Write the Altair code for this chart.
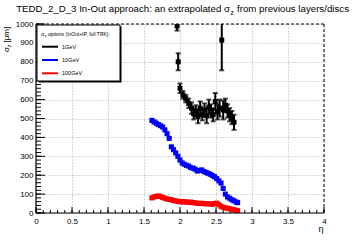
import altair as alt
import pandas as pd

# ---- data ----
eta_fine = [1.61, 1.64, 1.67, 1.70, 1.73, 1.76, 1.79, 1.82, 1.85, 1.88,
            1.91, 1.94, 1.97, 2.00, 2.03, 2.06, 2.09, 2.12, 2.15, 2.18,
            2.21, 2.24, 2.27, 2.30, 2.33, 2.36, 2.39, 2.42, 2.45, 2.48,
            2.51, 2.54, 2.57, 2.60, 2.63, 2.66, 2.69, 2.72, 2.75, 2.78, 2.80]
sigma_10gev = [490, 482, 475, 468, 462, 455, 440, 420, 395, 350,
               335, 318, 300, 280, 265, 258, 252, 248, 240, 238,
               232, 222, 225, 228, 220, 215, 210, 205, 198, 192,
               182, 170, 158, 130, 100, 85, 78, 70, 65, 58, 55]
sigma_100gev = [80, 85, 88, 90, 87, 82, 78, 74, 72, 70,
                66, 64, 62, 60, 58, 60, 58, 56, 58, 55,
                54, 52, 50, 52, 50, 48, 50, 48, 46, 50,
                52, 44, 35, 30, 27, 25, 22, 20, 17, 14, 12]

eta_1gev = [1.96, 1.975, 2.00, 2.04, 2.08, 2.12, 2.16, 2.19, 2.22, 2.25,
            2.28, 2.31, 2.34, 2.37, 2.40, 2.43, 2.46, 2.49, 2.52, 2.55,
            2.58, 2.60, 2.63, 2.66, 2.69, 2.72, 2.75]
sigma_1gev = [990, 800, 660, 625, 605, 580, 555, 525, 540, 510,
              555, 520, 545, 515, 560, 540, 520, 590, 535, 555,
              915, 545, 570, 540, 520, 505, 480]
err_1gev = [25, 45, 25, 20, 20, 25, 30, 30, 30, 35,
            35, 30, 35, 40, 40, 35, 35, 45, 40, 45,
            160, 50, 35, 35, 35, 35, 40]

legend_labels = ["1GeV", "10GeV", "100GeV"]
legend_colors = ["#000000", "#0000ff", "#ff0000"]

x_major = [0, 0.5, 1, 1.5, 2, 2.5, 3, 3.5, 4]
x_minor = [i / 10 for i in range(41)]
y_major = list(range(0, 1001, 100))
y_minor = list(range(0, 1001, 20))

W, H = 288, 189
FONT = "Liberation Sans"

xs = alt.Scale(domain=[0, 4], nice=False, zero=False)
ys = alt.Scale(domain=[0, 1000], nice=False, zero=False)

XAX = alt.Axis(values=x_major, labelExpr="'' + datum.value", labelFont=FONT, labelFontSize=8,
               labelColor="black", ticks=False, domain=False, grid=True, gridDash=[1, 2],
               gridColor="#b0b0b0", labelPadding=4, labelFlush=False, labelOverlap=False, title=None)
YAX = alt.Axis(values=y_major, labelExpr="'' + datum.value", labelFont=FONT, labelFontSize=8,
               labelColor="black", ticks=False, domain=False, grid=True, gridDash=[1, 2],
               gridColor="#b0b0b0", labelPadding=3, labelFlush=False, labelOverlap=False, title=None)


def X(f):
    return alt.X(f, scale=xs, axis=XAX)


def Y(f):
    return alt.Y(f, scale=ys, axis=YAX)


# ---- axes (labels + grid) ----
axes = alt.Chart(pd.DataFrame({"x": [0.0], "y": [0.0]})).mark_point(opacity=0).encode(
    x=X("x:Q"), y=Y("y:Q"))

# ---- inward ticks ----
ytick_minor = alt.Chart(pd.DataFrame({"v": y_minor})).mark_rule(color="black", strokeWidth=1).encode(
    y=Y("v:Q"), x=alt.value(0), x2=alt.value(5))
ytick_major = alt.Chart(pd.DataFrame({"v": y_major})).mark_rule(color="black", strokeWidth=1).encode(
    y=Y("v:Q"), x=alt.value(0), x2=alt.value(9))
xtick_minor = alt.Chart(pd.DataFrame({"v": x_minor})).mark_rule(color="black", strokeWidth=1).encode(
    x=X("v:Q"), y=alt.value(H), y2=alt.value(H - 3))
xtick_major = alt.Chart(pd.DataFrame({"v": x_major})).mark_rule(color="black", strokeWidth=1).encode(
    x=X("v:Q"), y=alt.value(H), y2=alt.value(H - 6))

# ---- frame ----
frame_df = pd.DataFrame({"a": [0]})
left = alt.Chart(frame_df).mark_rule(color="black", strokeWidth=1.2).encode(
    x=alt.value(0), y=alt.value(0), y2=alt.value(H))
bottom = alt.Chart(frame_df).mark_rule(color="black", strokeWidth=1.2).encode(
    x=alt.value(0), x2=alt.value(W), y=alt.value(H))
top = alt.Chart(frame_df).mark_rule(color="black", strokeWidth=1, strokeDash=[3, 2]).encode(
    x=alt.value(0), x2=alt.value(W), y=alt.value(0))
right = alt.Chart(frame_df).mark_rule(color="black", strokeWidth=1, strokeDash=[3, 2]).encode(
    x=alt.value(W), y=alt.value(0), y2=alt.value(H))

# ---- data ----
df10 = pd.DataFrame({"eta": eta_fine, "sigma": sigma_10gev})
df100 = pd.DataFrame({"eta": eta_fine, "sigma": sigma_100gev})
df1 = pd.DataFrame({"eta": eta_1gev, "sigma": sigma_1gev, "err": err_1gev})
df1["lo"] = df1["sigma"] - df1["err"]
df1["hi"] = df1["sigma"] + df1["err"]

pts10 = alt.Chart(df10).mark_square(size=26, color=legend_colors[1], opacity=1, clip=True).encode(
    x=X("eta:Q"), y=Y("sigma:Q"))
pts100 = alt.Chart(df100).mark_square(size=26, color=legend_colors[2], opacity=1, clip=True).encode(
    x=X("eta:Q"), y=Y("sigma:Q"))
err1 = alt.Chart(df1).mark_rule(color="black", strokeWidth=2, clip=True).encode(
    x=X("eta:Q"), y=Y("lo:Q"), y2="hi:Q")
caplo = alt.Chart(df1).mark_tick(color="black", orient="horizontal", size=5, thickness=2, clip=True).encode(
    x=X("eta:Q"), y=Y("lo:Q"))
caphi = alt.Chart(df1).mark_tick(color="black", orient="horizontal", size=5, thickness=2, clip=True).encode(
    x=X("eta:Q"), y=Y("hi:Q"))
pts1 = alt.Chart(df1).mark_square(size=25, color="black", opacity=1, clip=True).encode(
    x=X("eta:Q"), y=Y("sigma:Q"))

# ---- legend ----
lg_shadow = alt.Chart(frame_df).mark_rect(color="black").encode(
    x=alt.value(2.5), x2=alt.value(85.5), y=alt.value(2.5), y2=alt.value(58.5))
lg_box = alt.Chart(frame_df).mark_rect(fill="white", stroke="black", strokeWidth=1).encode(
    x=alt.value(1), x2=alt.value(84), y=alt.value(1), y2=alt.value(57))
lg_title1 = alt.Chart(frame_df).mark_text(text="σ", font=FONT, fontSize=5.5, align="left",
                                          baseline="middle", color="black").encode(
    x=alt.value(5), y=alt.value(10))
lg_title2 = alt.Chart(frame_df).mark_text(text="z", font=FONT, fontSize=4, align="left",
                                          baseline="middle", color="black").encode(
    x=alt.value(8.4), y=alt.value(11.5))
lg_title3 = alt.Chart(frame_df).mark_text(text="options (InOut+IP, full TRK):", font=FONT, fontSize=5,
                                          align="left", baseline="middle", color="black").encode(
    x=alt.value(12), y=alt.value(10))
legend_layers = [lg_shadow, lg_box, lg_title1, lg_title2, lg_title3]
for i, (lab, col) in enumerate(zip(legend_labels, legend_colors)):
    yy = 22.7 + 13.3 * i
    legend_layers.append(alt.Chart(frame_df).mark_rule(color=col, strokeWidth=2).encode(
        x=alt.value(6), x2=alt.value(22), y=alt.value(yy)))
    legend_layers.append(alt.Chart(frame_df).mark_text(text=lab, font=FONT, fontSize=5.5, align="left",
                                                       baseline="middle", color="black").encode(
        x=alt.value(26), y=alt.value(yy)))

# ---- titles ----
t1 = alt.Chart(frame_df).mark_text(text="TEDD_2_D_3 In-Out approach: an extrapolated σ", font=FONT,
                                   fontSize=9.7, align="right", baseline="middle", color="black").encode(
    x=alt.value(194), y=alt.value(-15))
t2 = alt.Chart(frame_df).mark_text(text="z", font=FONT, fontSize=6.5, align="left",
                                   baseline="middle", color="black").encode(
    x=alt.value(194.5), y=alt.value(-11.5))
t3 = alt.Chart(frame_df).mark_text(text="from previous layers/discs", font=FONT,
                                   fontSize=9.7, align="left", baseline="middle", color="black").encode(
    x=alt.value(201), y=alt.value(-15))
ya = alt.Chart(frame_df).mark_text(text="σ", font=FONT, fontSize=8, align="left", angle=270,
                                   baseline="alphabetic", color="black").encode(
    x=alt.value(-27), y=alt.value(28))
yb = alt.Chart(frame_df).mark_text(text="z", font=FONT, fontSize=6, align="left", angle=270,
                                   baseline="alphabetic", color="black").encode(
    x=alt.value(-25), y=alt.value(23.5))
yc = alt.Chart(frame_df).mark_text(text="[μm]", font=FONT, fontSize=8, align="left", angle=270,
                                   baseline="alphabetic", color="black").encode(
    x=alt.value(-27), y=alt.value(18.5))
xt = alt.Chart(frame_df).mark_text(text="η", font=FONT, fontSize=9, align="center",
                                   baseline="middle", color="black").encode(
    x=alt.value(285), y=alt.value(205))

chart = alt.layer(
    axes, ytick_minor, ytick_major, xtick_minor, xtick_major,
    pts100, pts10, err1, caplo, caphi, pts1,
    left, bottom, top, right,
    *legend_layers, t1, t2, t3, ya, yb, yc, xt,
).properties(
    width=W, height=H,
    autosize=alt.AutoSizeParams(type="none"),
    padding={"left": 36, "top": 24, "right": 36, "bottom": 27},
    background="white",
).configure_view(strokeWidth=0)

chart.save("out.html", embed_options={"renderer": "svg", "actions": False})
